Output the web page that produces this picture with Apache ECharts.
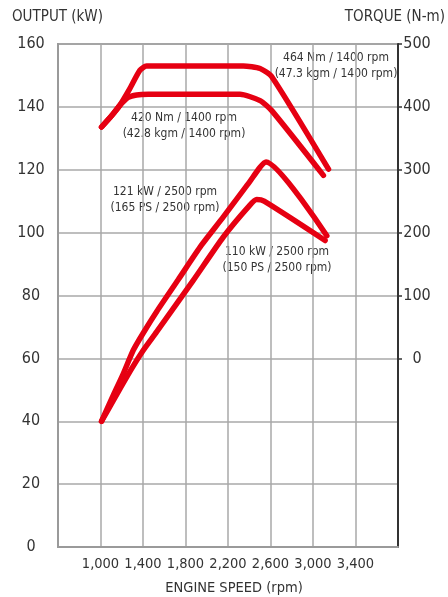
<!DOCTYPE html>
<html>
<head>
<meta charset="utf-8">
<script src="https://cdn.jsdelivr.net/npm/echarts@6/dist/echarts.min.js"></script>
<style>
  html, body { margin: 0; padding: 0; background: #fff; }
  #chart { width: 448px; height: 597px; }
</style>
</head>
<body>
<div id="chart"></div>
<script>
// engine speed ticks (rpm)
var rpmTicks = [600, 1000, 1400, 1800, 2200, 2600, 3000, 3400, 3800];
var rpmLabels = [1000, 1400, 1800, 2200, 2600, 3000, 3400];
var torqueTicks = [0, 100, 200, 300, 400, 500];

// torque 464 Nm curve (Nm)
var torqueHiRpm = [1010, 1100, 1180, 1276, 1370, 1433, 2344, 2502, 2612, 3146];
var torqueHiNm  = [368, 385, 402, 429, 458, 465, 465, 461, 448, 301];

// torque 420 Nm curve (Nm)
var torqueLoRpm = [1010, 1100, 1180, 1260, 1340, 1450, 2313, 2502, 2612, 3098];
var torqueLoNm  = [368, 385, 402, 415, 419, 420, 420, 410, 394, 291];

// output 121 kW curve (kW)
var powerHiRpm = [1010, 1110, 1213, 1307, 1401, 1531, 1731, 1950, 2156, 2400, 2558, 3130];
var powerHiKw  = [40, 47.5, 55, 62.5, 68, 75, 85, 96, 105, 116, 122.5, 99];

// output 110 kW curve (kW)
var powerLoRpm = [1010, 1245, 1401, 1528, 1873, 2156, 2400, 2470, 2540, 3114];
var powerLoKw  = [40, 54, 62.5, 68.4, 84.8, 98.6, 108.5, 110.5, 110, 97.5];

function pairs(xs, ys) {
  return xs.map(function (x, i) { return [x, ys[i]]; });
}

var FONT = '"DejaVu Sans Condensed", "Liberation Sans Narrow", sans-serif';
var RED = '#e60012';
var TEXT = '#333';

function curve(name, xs, ys, axis) {
  return {
    name: name,
    type: 'line',
    yAxisIndex: axis,
    data: pairs(xs, ys),
    symbol: 'none',
    smooth: 0.2,
    lineStyle: { color: RED, width: 5.5, cap: 'round', join: 'round' }
  };
}

var chart = echarts.init(document.getElementById('chart'));

var option = {
  animation: false,
  grid: {
    left: 58, right: 50, top: 44, bottom: 50,
    show: true, borderColor: '#9a9a9a', borderWidth: 2
  },
  xAxis: {
    type: 'value',
    min: 600, max: 3800,
    axisLine: { show: true, lineStyle: { color: '#9a9a9a', width: 2 } },
    axisTick: { show: false, customValues: rpmTicks },
    axisLabel: {
      customValues: rpmLabels,
      margin: 10,
      color: TEXT, fontFamily: FONT, fontSize: 14.5,
      formatter: function (v) { return v.toLocaleString('en-US'); }
    },
    splitLine: { show: true, lineStyle: { color: '#a8a8a8', width: 1.5 } }
  },
  yAxis: [{
    type: 'value',
    min: 0, max: 160, interval: 20,
    axisLine: { show: true, lineStyle: { color: '#9a9a9a', width: 2 } },
    axisTick: { show: false },
    axisLabel: {
      align: 'center', margin: 27,
      color: TEXT, fontFamily: FONT, fontSize: 16
    },
    splitLine: { show: true, lineStyle: { color: '#a8a8a8', width: 1.5 } }
  }, {
    type: 'value',
    min: -300, max: 500,
    position: 'right',
    axisLine: { show: true, onZero: false, lineStyle: { color: '#333', width: 2 } },
    axisTick: { show: true, length: 4, customValues: torqueTicks, lineStyle: { color: '#333', width: 1.5 } },
    axisLabel: {
      customValues: torqueTicks,
      align: 'center', margin: 19,
      color: TEXT, fontFamily: FONT, fontSize: 16
    },
    splitLine: { show: false }
  }],
  graphic: [
    { type: 'text', left: 12, top: 10, style: { text: 'OUTPUT (kW)', fill: TEXT, font: '15px ' + FONT } },
    { type: 'text', right: 3, top: 10, style: { text: 'TORQUE (N-m)', fill: TEXT, font: '15px ' + FONT } },
    { type: 'text', x: 234, y: 588, style: { text: 'ENGINE SPEED (rpm)', fill: TEXT, font: '14.5px ' + FONT, align: 'center', verticalAlign: 'middle' } },
    { type: 'text', x: 336, y: 66, style: { text: '464 Nm / 1400 rpm\n(47.3 kgm / 1400 rpm)', fill: TEXT, font: '12px ' + FONT, align: 'center', verticalAlign: 'middle', lineHeight: 16 } },
    { type: 'text', x: 184, y: 126, style: { text: '420 Nm / 1400 rpm\n(42.8 kgm / 1400 rpm)', fill: TEXT, font: '12px ' + FONT, align: 'center', verticalAlign: 'middle', lineHeight: 16 } },
    { type: 'text', x: 165, y: 200, style: { text: '121 kW / 2500 rpm\n(165 PS / 2500 rpm)', fill: TEXT, font: '12px ' + FONT, align: 'center', verticalAlign: 'middle', lineHeight: 16 } },
    { type: 'text', x: 277, y: 260, style: { text: '110 kW / 2500 rpm\n(150 PS / 2500 rpm)', fill: TEXT, font: '12px ' + FONT, align: 'center', verticalAlign: 'middle', lineHeight: 16 } }
  ],
  series: [
    curve('464 Nm', torqueHiRpm, torqueHiNm, 1),
    curve('420 Nm', torqueLoRpm, torqueLoNm, 1),
    curve('121 kW', powerHiRpm, powerHiKw, 0),
    curve('110 kW', powerLoRpm, powerLoKw, 0)
  ]
};

chart.setOption(option);
</script>
</body>
</html>
